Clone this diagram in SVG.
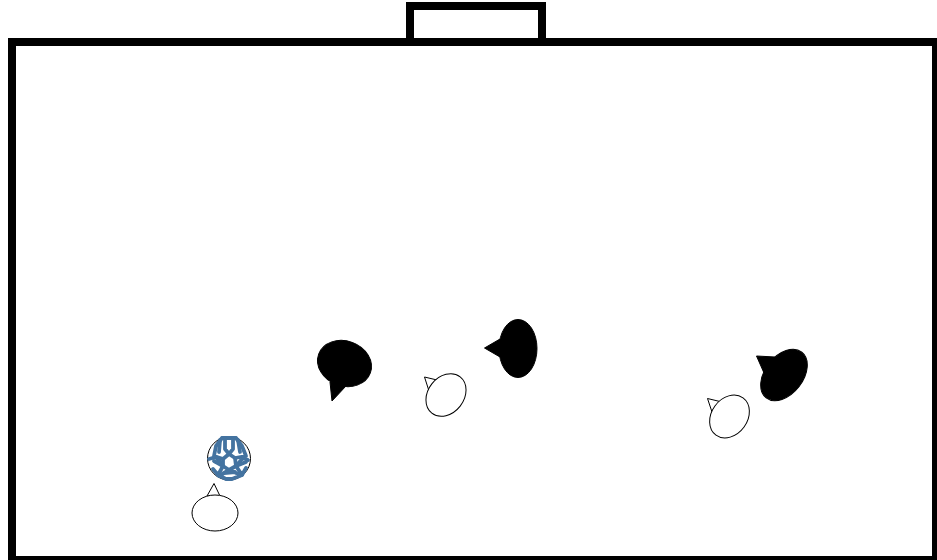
<svg xmlns="http://www.w3.org/2000/svg" width="937" height="560" viewBox="0 0 937 560">
<style>
.line{fill:none;stroke:#000;stroke-width:8}
.w{fill:#fff;stroke:#000;stroke-width:1}
.b{fill:#000;stroke:#000;stroke-width:1}
.p{fill:none;stroke:#4473a0;stroke-width:3.800;stroke-linejoin:round;stroke-linecap:round}
</style>
<rect width="937" height="560" fill="#fff"/>
<g id="field">
<rect class="line" x="12" y="42" width="924" height="518"/>
<rect class="line" x="410" y="6" width="132" height="36"/>
</g>
<g id="ball">
<circle cx="229" cy="458.500" r="21.500" fill="#fff" stroke="#000" stroke-width="1"/>
<path class="p" d="M229 454L235 458L236 466L229 470L223 466L223 459Z"/>
<path class="p" d="M222 438L236 438M222 438L216 446L214 456L223 459M236 438L242 446L246 456L235 458"/>
<path class="p" d="M225 438L225 449L229 454L233 449L233 438M220 440L219 452M238 440L240 452"/>
<path class="p" d="M209 459L216 457L223 466L218 475L213 469M248 460L243 458L236 466L242 475L246 468"/>
<path class="p" d="M223 466L214 461M236 466L246 462M218 475L226 479L232 479L242 475M219 476L229 470L241 475M224 473L235 472"/>
</g>
<g id="player-white-1">
<path class="w" d="M207 496L214 483.500L220 496Z"/>
<ellipse class="w" cx="215" cy="513" rx="23" ry="18"/>
</g>
<g id="player-black-1">
<path class="b" d="M330 382L332 401L346 386Z"/>
<ellipse class="b" cx="344.500" cy="363.500" rx="27.500" ry="22.500" transform="rotate(20 344.500 363.500)"/>
</g>
<g id="player-white-2">
<path class="w" d="M429 391L424.500 377L437 380Z"/>
<ellipse class="w" cx="446" cy="395" rx="18" ry="23" transform="rotate(38 446 395)"/>
</g>
<g id="player-black-2">
<path class="b" d="M500 339L484.500 348L500 357Z"/>
<ellipse class="b" cx="518" cy="348.500" rx="19" ry="29"/>
</g>
<g id="player-white-3">
<path class="w" d="M712 412L707.500 398.500L722 402Z"/>
<ellipse class="w" cx="729.500" cy="416.500" rx="18" ry="23" transform="rotate(36 729.500 416.500)"/>
</g>
<g id="player-black-3">
<path class="b" d="M775 357L756.500 356L764 373Z"/>
<ellipse class="b" cx="784" cy="375" rx="19" ry="29" transform="rotate(38 784 375)"/>
</g>
<g id="connectors"></g>
</svg>
